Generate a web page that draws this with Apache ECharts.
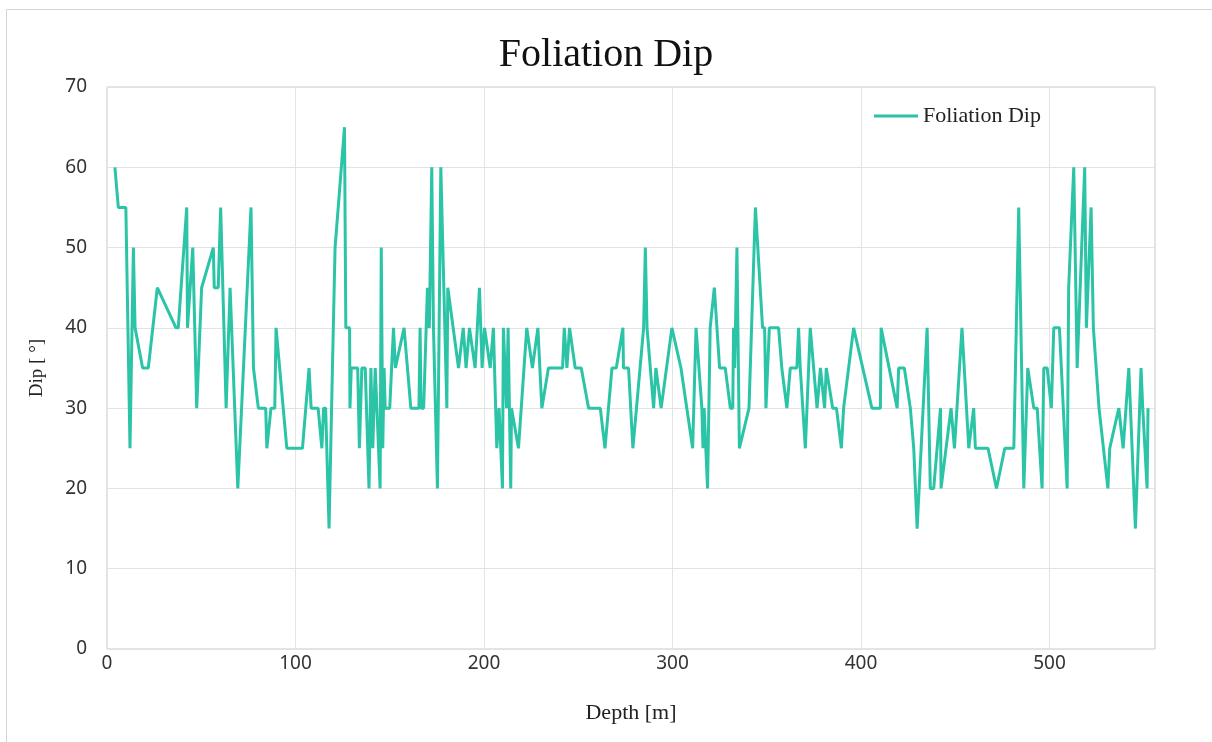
<!DOCTYPE html>
<html>
<head>
<meta charset="utf-8">
<title>Foliation Dip</title>
<script src="https://cdn.jsdelivr.net/npm/echarts@6/dist/echarts.min.js"></script>
<style>
  html, body { margin: 0; padding: 0; background: #fff; }
  #char1 { width: 1212px; height: 742px; }
</style>
</head>
<body>
<div id="char1"></div>
<script>
  // depth [m] / dip [°]
  var depth = [4.2, 6, 10, 12.2, 14, 14.9, 18.9, 21.9, 26.7, 36.6, 37.8, 42.3, 42.7, 45.5, 47.6, 50.2, 56.4, 56.9, 59, 60.3,
    63.2, 65.3, 69.4, 76.4, 77.7, 80.3, 84.2, 84.8, 87, 89, 89.7, 95.4, 103.7, 107.2, 108.3, 112, 114, 114.9, 116, 117.8,
    119.6, 121, 122, 126, 126.7, 128.7, 128.9, 129.6, 133, 133.9, 135.2, 137, 139, 140, 141, 142.3, 143.2, 144.9, 145.5, 146.3,
    147, 147.6, 150, 152, 153, 157.6, 161.2, 165.5, 166.1, 166.6, 168, 170, 171, 172.3, 173.2, 175.3, 177.1, 180.3, 180.8, 186.5,
    189, 190.5, 192.3, 195.3, 197.6, 199, 200.3, 203.3, 205, 206.8, 208, 209.8, 210.3, 212, 212.8, 214.2, 214.6, 218.3, 222.7, 225.7,
    228.6, 230.7, 234.2, 241.7, 242.6, 244, 245.4, 248.4, 251.6, 255.5, 261.7, 264.2, 267.9, 270.2, 273.7, 274, 276.7, 279, 284.7, 285.6,
    286.5, 290, 291.2, 294, 299.7, 304.5, 310.7, 312.5, 315.6, 316.2, 316.8, 318.6, 320, 322.2, 325, 328, 330.7, 332, 332.4, 333,
    334.2, 335.5, 340.6, 344, 347.8, 348.9, 349.6, 351.4, 356.3, 358, 360.7, 362.5, 366, 366.9, 367.8, 370.5, 373.1, 376.7, 378.5, 380.7,
    381.6, 385, 387, 389.6, 390.8, 396.1, 405.8, 410.3, 410.7, 419.2, 420, 423, 426.2, 428, 429.8, 435.1, 436.8, 438.6, 442.2, 442.5,
    447.8, 449.6, 453.6, 457.2, 459.8, 460.7, 467.4, 471.9, 476.3, 481.1, 483.7, 486.4, 488.5, 491.7, 493.5, 496.1, 497, 498.8, 501, 502.3,
    505.3, 509.4, 510.2, 512.9, 514.7, 518.7, 519.6, 522.1, 523.3, 526.3, 527, 531, 532, 536.8, 537.6, 539.1, 542.1, 545.6, 548.6, 549.5,
    551.8, 552.3];
  var dip = [60, 55, 55, 25, 50, 40, 35, 35, 45, 40, 40, 55, 40, 50, 30, 45, 50, 45, 45, 55,
    30, 45, 20, 55, 35, 30, 30, 25, 30, 30, 40, 25, 25, 35, 30, 30, 25, 30, 30, 15,
    35, 50, 50, 65, 40, 40, 30, 35, 35, 25, 35, 35, 20, 35, 25, 35, 30, 20, 50, 25,
    35, 30, 30, 40, 35, 40, 30, 30, 40, 30, 30, 45, 40, 60, 40, 20, 60, 30, 45, 35,
    40, 35, 40, 35, 45, 35, 40, 35, 40, 25, 30, 20, 40, 30, 40, 20, 30, 25, 40, 35,
    40, 30, 35, 35, 40, 35, 40, 35, 35, 30, 30, 25, 35, 35, 40, 35, 35, 25, 40, 50,
    40, 30, 35, 30, 40, 35, 25, 40, 30, 25, 30, 20, 40, 45, 35, 35, 30, 30, 40, 35,
    50, 25, 30, 55, 40, 40, 30, 40, 40, 35, 30, 35, 35, 40, 35, 25, 40, 30, 35, 30,
    35, 30, 30, 25, 30, 40, 30, 30, 40, 30, 35, 35, 30, 25, 15, 40, 20, 20, 30, 20,
    30, 25, 40, 25, 30, 25, 25, 20, 25, 25, 55, 20, 35, 30, 30, 20, 35, 35, 30, 40,
    40, 20, 45, 60, 35, 60, 40, 55, 40, 30, 30, 20, 25, 30, 30, 25, 35, 15, 35, 30,
    20, 30];
  var xTicks = [0, 100, 200, 300, 400, 500];
  var yTicks = [0, 10, 20, 30, 40, 50, 60, 70];

  var pts = [];
  for (var i = 0; i < depth.length; i++) {
    pts.push([depth[i], dip[i]]);
  }

  var serif = "'Liberation Serif', 'DejaVu Serif', serif";
  var dom = document.getElementById("char1");
  var myChart = echarts.init(dom);

  var option = {
    backgroundColor: '#fff',
    title: {
      text: 'Foliation Dip',
      left: 'center',
      top: 30,
      textStyle: { fontFamily: serif, fontSize: 40, fontWeight: 'normal', color: '#111' }
    },
    legend: {
      data: ['Foliation Dip'],
      left: 869,
      top: 100,
      itemWidth: 44,
      itemHeight: 3,
      itemGap: 6,
      icon: 'rect',
      textStyle: { fontFamily: serif, fontSize: 22, color: '#222' }
    },
    grid: {
      left: 107,
      right: 57,
      top: 87,
      bottom: 93,
      show: true,
      borderColor: '#c8c8c8',
      borderWidth: 1,
      containLabel: false
    },
    xAxis: {
      type: 'value',
      min: xTicks[0],
      max: 556,
      interval: 100,
      name: 'Depth [m]',
      nameLocation: 'middle',
      nameGap: 53,
      nameTextStyle: { fontFamily: serif, fontSize: 22, color: '#222' },
      axisLine: { show: false },
      axisTick: { show: false },
      axisLabel: {
        margin: 5,
        fontFamily: "'Noto Sans', sans-serif",
        fontSize: 19,
        color: '#333',
        showMaxLabel: false,
        formatter: function (v) { return xTicks.indexOf(v) >= 0 ? String(v) : ''; }
      },
      splitLine: { show: true, lineStyle: { color: '#e3e3e3', width: 1 } }
    },
    yAxis: {
      type: 'value',
      min: yTicks[0],
      max: yTicks[yTicks.length - 1],
      interval: 10,
      name: 'Dip [ °]',
      nameLocation: 'middle',
      nameGap: 60,
      nameTextStyle: { fontFamily: serif, fontSize: 19, color: '#222' },
      axisLine: { show: false },
      axisTick: { show: false },
      axisLabel: {
        margin: 20,
        fontFamily: "'Noto Sans', sans-serif",
        fontSize: 19,
        color: '#333'
      },
      splitLine: { show: true, lineStyle: { color: '#e3e3e3', width: 1 } }
    },
    graphic: [{
      type: 'rect',
      shape: { x: 6.5, y: 9.5, width: 1210, height: 745 },
      style: { fill: 'none', stroke: '#d4d4d4', lineWidth: 1 },
      silent: true
    }],
    series: [{
      name: 'Foliation Dip',
      type: 'line',
      data: pts,
      symbol: 'none',
      animation: false,
      lineStyle: { color: '#2bc4a7', width: 3 },
      itemStyle: { color: '#2bc4a7' }
    }]
  };
  if (option && typeof option === "object") {
    myChart.setOption(option, true);
  }
</script>
</body>
</html>
